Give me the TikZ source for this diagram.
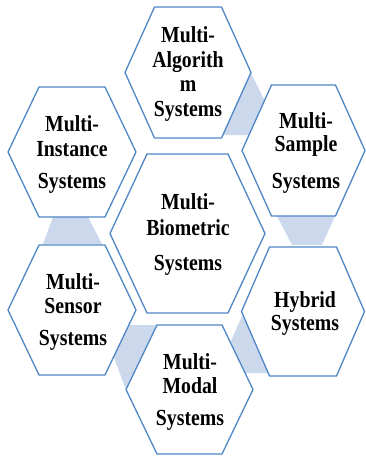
\documentclass[tikz,border=0pt]{standalone}
\usepackage{fontspec}
\usepackage{graphicx}
\setmainfont{Liberation Serif}
\definecolor{hexline}{HTML}{4F86C6}
\definecolor{shadeblue}{HTML}{CCD9ED}
\tikzset{
  hexa/.style={draw=hexline, line width=1.3pt, fill=white, line join=miter},
  band/.style={fill=shadeblue, draw=none},
  lbl/.style={anchor=base, inner sep=0pt, font=\bfseries\fontsize{23}{24}\selectfont}
}
\newcommand{\sqz}[1]{\scalebox{0.86}[1]{#1}}
\newcommand{\myhex}[5]{%
  \draw[hexa] (#1-#3,#2) -- (#1-#5,#2-#4) -- (#1+#5,#2-#4) -- (#1+#3,#2)
    -- (#1+#5,#2+#4) -- (#1-#5,#2+#4) -- cycle;}
\begin{document}
\begin{tikzpicture}[x=1pt,y=-1pt]
\useasboundingbox (0,0) rectangle (365,456);
% connecting shades
\fill[band] (251,73) -- (200,135) -- (282,135) -- cycle;
\fill[band] (53,217) -- (88,217) -- (102,244) -- (43,244) -- cycle;
\fill[band] (277,216) -- (335,216) -- (322,245) -- (292,245) -- cycle;
\fill[band] (102,325) -- (157,325) -- (126,390) -- cycle;
\fill[band] (242,316) -- (217,373) -- (275,373) -- cycle;
% hexagons: cx cy halfwidth halfheight halftop
\myhex{188}{72.5}{63}{65.5}{33.5}
\myhex{72}{152}{64}{65}{33}
\myhex{303.5}{150.5}{61.5}{65.5}{32}
\myhex{187.5}{233.5}{77.5}{79.5}{40.5}
\myhex{72}{310}{64}{65}{33}
\myhex{303}{311.5}{61.5}{64.5}{33.5}
\myhex{189.5}{389.5}{63.5}{64.5}{32.5}
% labels
\node[lbl] (alg1) at (188,42.5) {\sqz{Multi-}};
\node[lbl] (alg2) at (188,67.5) {\sqz{Algorith}};
\node[lbl] (alg3) at (188,91.5) {\sqz{m}};
\node[lbl] (alg4) at (188,116) {\sqz{Systems}};
\node[lbl] (ins1) at (72,131) {\sqz{Multi-}};
\node[lbl] (ins2) at (72,156) {\sqz{Instance}};
\node[lbl] (ins3) at (72,188) {\sqz{Systems}};
\node[lbl] (sam1) at (306,128) {\sqz{Multi-}};
\node[lbl] (sam2) at (306,151) {\sqz{Sample}};
\node[lbl] (sam3) at (306,188) {\sqz{Systems}};
\node[lbl] (bio1) at (188,209) {\sqz{Multi-}};
\node[lbl] (bio2) at (188,235) {\sqz{Biometric}};
\node[lbl] (bio3) at (188,270) {\sqz{Systems}};
\node[lbl] (sen1) at (73,289) {\sqz{Multi-}};
\node[lbl] (sen2) at (73,313) {\sqz{Sensor}};
\node[lbl] (sen3) at (73,345) {\sqz{Systems}};
\node[lbl] (hyb1) at (305,307) {\sqz{Hybrid}};
\node[lbl] (hyb2) at (305,330) {\sqz{Systems}};
\node[lbl] (mod1) at (190,369) {\sqz{Multi-}};
\node[lbl] (mod2) at (190,393) {\sqz{Modal}};
\node[lbl] (mod3) at (190,425) {\sqz{Systems}};
\end{tikzpicture}
\end{document}
